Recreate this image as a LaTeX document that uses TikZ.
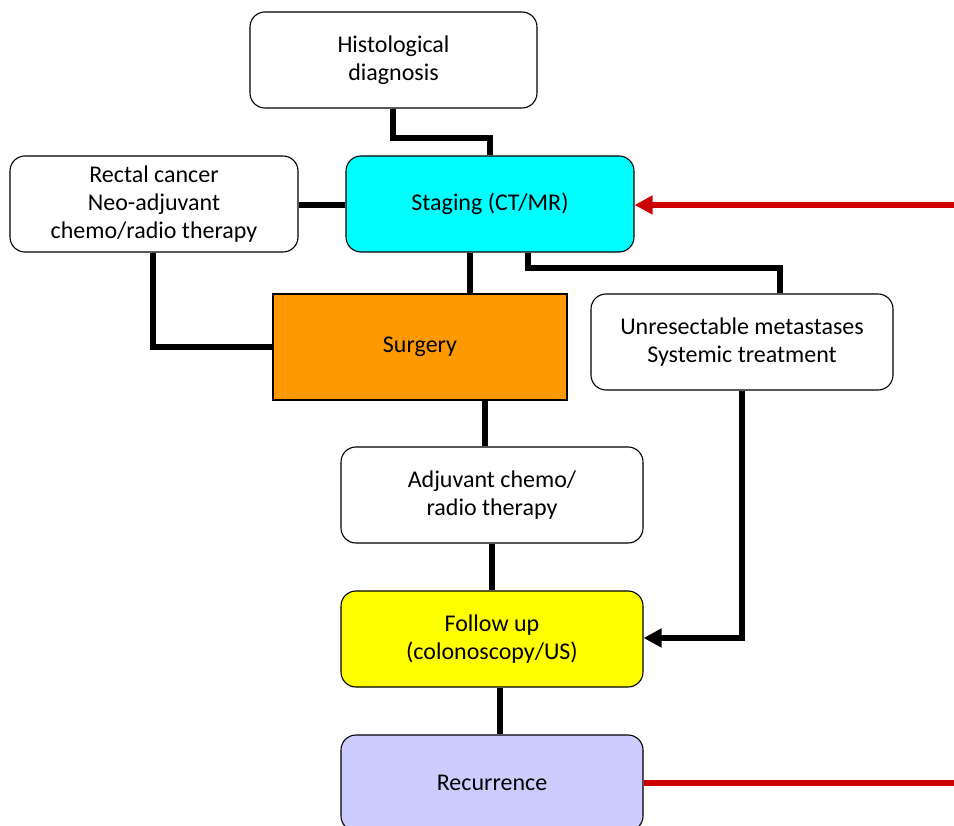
\documentclass[tikz,border=0pt]{standalone}
\usepackage{fontspec}
\setmainfont{Carlito}
\usetikzlibrary{arrows.meta}
\definecolor{cyanbox}{RGB}{0,255,255}
\definecolor{orangebox}{RGB}{255,153,0}
\definecolor{yellowbox}{RGB}{255,255,0}
\definecolor{lavbox}{RGB}{204,204,255}
\definecolor{redline}{RGB}{204,0,0}
\tikzset{
  box/.style={draw=black, line width=1.1pt, rounded corners=15pt, align=center, font=\fontsize{24}{28}\selectfont, inner sep=0pt},
  sharpbox/.style={draw=black, line width=1.1pt, align=center, font=\fontsize{24}{28}\selectfont, inner sep=0pt},
  conn/.style={line width=5.5pt, black},
  redconn/.style={line width=6pt, redline},
}
\begin{document}
\begin{tikzpicture}[x=1pt,y=-1pt]
\useasboundingbox (0,0) rectangle (954,826);
\begin{scope}
\clip (0,0) rectangle (954,826);
\node[box, minimum width=287pt, minimum height=96pt, fill=white] (hist) at (393.5,60) {Histological\\diagnosis};
\node[box, minimum width=288pt, minimum height=96pt, fill=white] (rect) at (154,204) {Rectal cancer\\Neo-adjuvant\\chemo/radio therapy};
\node[box, minimum width=288pt, minimum height=96pt, fill=cyanbox] (stag) at (490,204) {Staging (CT/MR)};
\node[sharpbox, minimum width=294pt, minimum height=106pt, fill=orangebox] (surg) at (420,347) {Surgery};
\node[box, minimum width=302pt, minimum height=96pt, fill=white] (unres) at (742,342) {Unresectable metastases\\Systemic treatment};
\node[box, minimum width=302pt, minimum height=96pt, fill=white] (adj) at (492,495) {Adjuvant chemo/\\radio therapy};
\node[box, minimum width=302pt, minimum height=96pt, fill=yellowbox] (fol) at (492,639) {Follow up\\(colonoscopy/US)};
\node[box, minimum width=302pt, minimum height=96pt, fill=lavbox] (rec) at (492,783) {Recurrence};
\coordinate (redin) at (954,205);
\coordinate (redout) at (954,783);
% connectors
\draw[conn] (hist.south -| 393,0) |- (490,138) -- (stag.north -| 490,0);
\draw[conn] (rect.east |- 0,205) -- (stag.west |- 0,205);
\draw[conn] (rect.south -| 153,0) |- (surg.west |- 0,347);
\draw[conn] (stag.south -| 470,0) -- (surg.north -| 470,0);
\draw[conn] (stag.south -| 528,0) |- (780,268) -- (unres.north -| 780,0);
\draw[conn] (surg.south -| 485,0) -- (adj.north -| 485,0);
\draw[conn] (adj.south -| 492,0) -- (fol.north -| 492,0);
\draw[conn, -{Triangle[length=18pt,width=18pt]}] (unres.south -| 742,0) |- (fol.east |- 0,638);
\draw[conn] (fol.south -| 500,0) -- (rec.north -| 500,0);
\draw[redconn, -{Triangle[length=18pt,width=18pt]}] (redin) -- (stag.east |- redin);
\draw[redconn] (rec.east |- redout) -- (redout);
\end{scope}
\end{tikzpicture}
\end{document}
